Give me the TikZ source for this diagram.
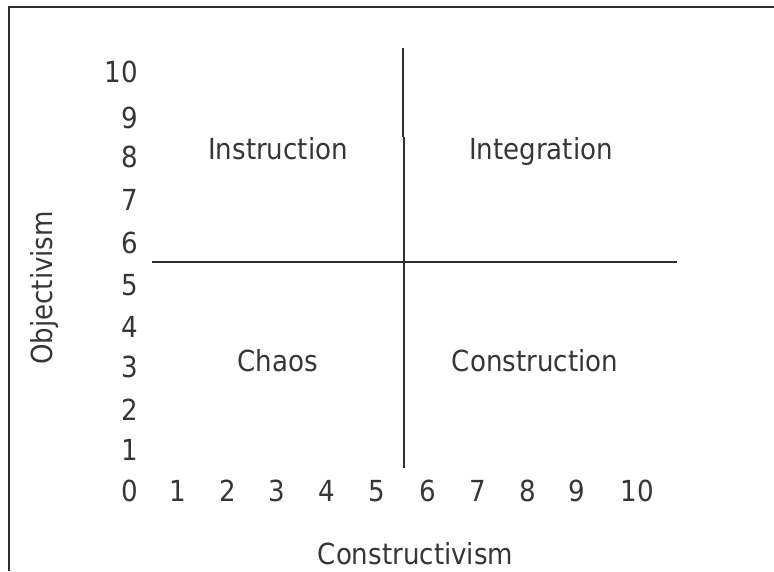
\documentclass[tikz,border=0pt]{standalone}
\usepackage{fontspec}
\newfontfamily\tahfont{DejaVu Sans}[FakeStretch=0.9]
\definecolor{ink}{HTML}{2E2E2E}
\definecolor{txt}{HTML}{363636}
\tikzset{
  lbl/.style={inner sep=0pt, outer sep=0pt, text=txt, font=\tahfont\fontsize{29}{29}\selectfont},
  ylbl/.style={lbl, anchor=base east},
  xlbl/.style={lbl, anchor=base},
  quad/.style={lbl, anchor=base},
  axisline/.style={draw=ink, line width=2pt},
  frameline/.style={draw=ink, line width=2.2pt}
}
\begin{document}
\begin{tikzpicture}[x=1pt,y=-1pt]
\useasboundingbox (0,0) rectangle (774,571);
% partial frame
\coordinate (ftr) at (774,7);
\coordinate (ftl) at (8.9,7);
\coordinate (fbl) at (8.9,571);
\draw[frameline] (ftr) -- (ftl) -- (fbl);
% axes cross
\coordinate (vtop) at (402.5,48);
\coordinate (vjog1) at (402.5,137);
\coordinate (vjog2) at (403.5,137);
\coordinate (vbot) at (403.5,468);
\coordinate (hl) at (152,261.5);
\coordinate (hr) at (677,261.5);
\draw[axisline] (vtop) -- (vjog1);
\draw[axisline] (vjog2) -- (vbot);
\draw[axisline] (hl) -- (hr);
% y labels
\node[ylbl] (y10) at (138,82) {10};
\node[ylbl] (y9) at (138,128) {9};
\node[ylbl] (y8) at (138,167) {8};
\node[ylbl] (y7) at (138,210) {7};
\node[ylbl] (y6) at (138,253) {6};
\node[ylbl] (y5) at (138,295) {5};
\node[ylbl] (y4) at (138,337) {4};
\node[ylbl] (y3) at (138,377) {3};
\node[ylbl] (y2) at (138,420) {2};
\node[ylbl] (y1) at (138,460) {1};
\node[xlbl] (x0) at (130,501) {0};
% x labels
\node[xlbl] (x1) at (178,501) {1};
\node[xlbl] (x2) at (228,501) {2};
\node[xlbl] (x3) at (277,501) {3};
\node[xlbl] (x4) at (327,501) {4};
\node[xlbl] (x5) at (377,501) {5};
\node[xlbl] (x6) at (428,501) {6};
\node[xlbl] (x7) at (478,501) {7};
\node[xlbl] (x8) at (528,501) {8};
\node[xlbl] (x9) at (577,501) {9};
\node[xlbl] (x10) at (637,501) {10};
% quadrant labels
\node[quad] (instr) at (278,159) {Instruction};
\node[quad] (integ) at (541,159) {Integration};
\node[quad] (chaos) at (277.5,371) {Chaos};
\node[quad] (constr) at (535,371) {Construction};
% axis titles
\node[lbl, anchor=base, rotate=90] (ytitle) at (52,288) {Objectivism};
\node[lbl, anchor=base] (xtitle) at (415.5,564.5) {Constructivism};
\end{tikzpicture}
\end{document}
